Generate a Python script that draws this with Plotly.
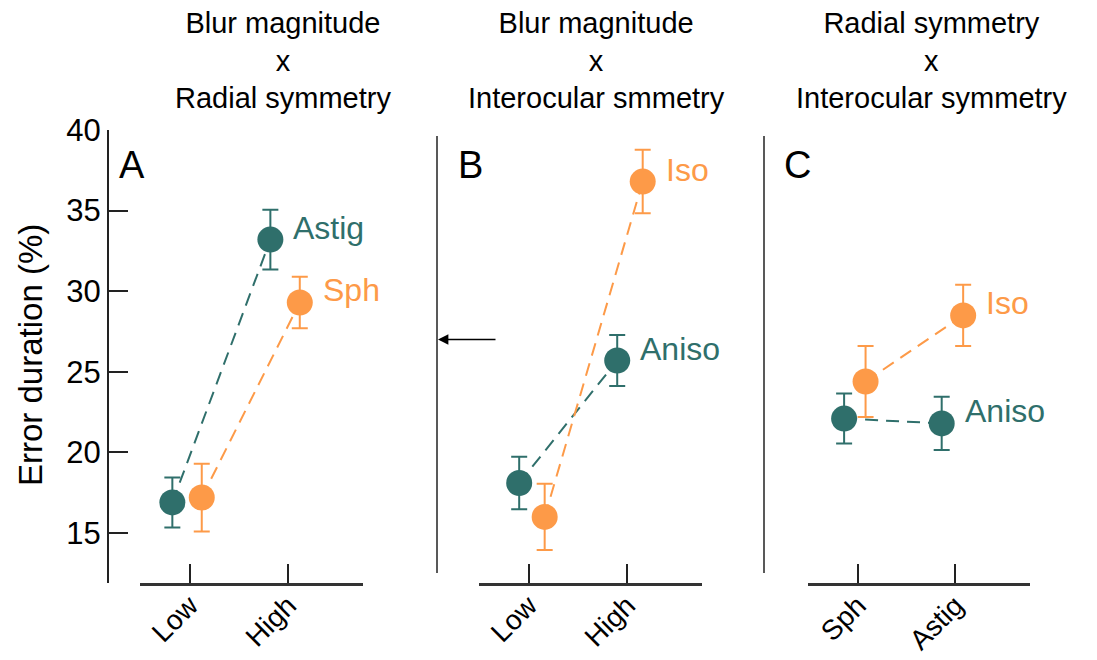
import plotly.graph_objects as go

# ---------------- data ----------------
cats_A = ["Low", "High"]
cats_B = ["Low", "High"]
cats_C = ["Sph", "Astig"]

A_astig_mean = [16.9, 33.2]
A_astig_err = [1.55, 1.85]
A_sph_mean = [17.2, 29.3]
A_sph_err = [2.1, 1.6]

B_aniso_mean = [18.1, 25.7]
B_aniso_err = [1.63, 1.58]
B_iso_mean = [16.0, 36.8]
B_iso_err = [2.05, 1.97]

C_aniso_mean = [22.1, 21.8]
C_aniso_err = [1.55, 1.65]
C_iso_mean = [24.4, 28.5]
C_iso_err = [2.2, 1.9]

panel_titles = [
    ["Blur magnitude", "x", "Radial symmetry"],
    ["Blur magnitude", "x", "Interocular smmetry"],
    ["Radial symmetry", "x", "Interocular symmetry"],
]
panel_letters = ["A", "B", "C"]
ytick_vals = [15, 20, 25, 30, 35, 40]
arrow_value = 27.0

# ---------------- style ----------------
TEAL = "#2f6f6b"
ORANGE = "#fd9a48"
FONT = "Liberation Sans, Arial, sans-serif"
W, H = 1097, 660


def px_x(p):
    return p / W


def px_y(p):
    return 1 - p / H


panels = [
    dict(xa="x", cats=cats_A, dom=(140, 363), letter_x=117,
         series=[("Astig", A_astig_mean, A_astig_err, TEAL, -0.18),
                 ("Sph", A_sph_mean, A_sph_err, ORANGE, 0.12)]),
    dict(xa="x2", cats=cats_B, dom=(479, 702), letter_x=456,
         series=[("Aniso", B_aniso_mean, B_aniso_err, TEAL, -0.10),
                 ("Iso", B_iso_mean, B_iso_err, ORANGE, 0.16)]),
    dict(xa="x3", cats=cats_C, dom=(808, 1030), letter_x=782,
         series=[("Aniso", C_aniso_mean, C_aniso_err, TEAL, -0.14),
                 ("Iso", C_iso_mean, C_iso_err, ORANGE, 0.08)]),
]
title_centers = [283, 596, 931]

fig = go.Figure()
annotations = []

for pi, p in enumerate(panels):
    for name, mean, err, col, off in p["series"]:
        xs = [i + off for i in range(len(p["cats"]))]
        fig.add_trace(go.Scatter(
            x=xs, y=mean, xaxis=p["xa"], yaxis="y", mode="lines",
            line=dict(color=col, width=2, dash="13px,8px"),
            showlegend=False, hoverinfo="skip"))
        fig.add_trace(go.Scatter(
            x=xs, y=mean, xaxis=p["xa"], yaxis="y", mode="markers",
            marker=dict(color=col, size=26),
            error_y=dict(type="data", array=err, color=col, thickness=2, width=8),
            showlegend=False, name=name))
        # series label next to the second point
        annotations.append(dict(
            x=xs[-1], y=mean[-1], xref=p["xa"], yref="y", text=name,
            showarrow=False, xanchor="left", yanchor="middle",
            xshift=21, yshift=12,
            font=dict(family=FONT, size=32, color=col)))
    # panel letter
    annotations.append(dict(
        x=px_x(p["letter_x"]), y=px_y(165), xref="paper", yref="paper",
        text=panel_letters[pi], showarrow=False, xanchor="left", yanchor="middle",
        font=dict(family=FONT, size=38, color="black")))
    # title (three lines)
    annotations.append(dict(
        x=px_x(title_centers[pi]), y=px_y(60), xref="paper", yref="paper",
        text="<br>".join(panel_titles[pi]), showarrow=False,
        xanchor="center", yanchor="middle", align="center",
        font=dict(family=FONT, size=29, color="black")))

# arrow in panel B
annotations.append(dict(
    x=px_x(438), y=arrow_value, xref="paper", yref="y", text="",
    showarrow=True, ax=59, ay=0, axref="pixel", ayref="pixel",
    arrowhead=2, arrowsize=1.3, arrowwidth=1.6, arrowcolor="black"))

# y-axis title
annotations.append(dict(
    x=px_x(30), y=px_y(355), xref="paper", yref="paper", text="Error duration (%)",
    textangle=-90, showarrow=False, xanchor="center", yanchor="middle",
    font=dict(family=FONT, size=33, color="black")))

ydom = (px_y(583), px_y(130))
yrange = [11.9, 40]

layout = dict(
    width=W, height=H, margin=dict(l=0, r=0, t=0, b=0, autoexpand=False),
    paper_bgcolor="white", plot_bgcolor="white",
    font=dict(family=FONT, color="black"),
    yaxis=dict(domain=ydom, range=yrange, anchor="free", position=px_x(108),
               automargin=False,
               tickvals=[yrange[0]] + ytick_vals,
               ticktext=[""] + [str(v) for v in ytick_vals],
               ticks="inside", ticklen=19, tickwidth=2, tickcolor="#222",
               showline=True, linewidth=2, linecolor="#222",
               showgrid=False, zeroline=False,
               tickfont=dict(family=FONT, size=31, color="black")),
    annotations=annotations,
    shapes=[
        dict(type="line", xref="paper", yref="paper", x0=px_x(437), x1=px_x(437),
             y0=px_y(136), y1=px_y(573), line=dict(color="#222", width=1.5)),
        dict(type="line", xref="paper", yref="paper", x0=px_x(764), x1=px_x(764),
             y0=px_y(136), y1=px_y(573), line=dict(color="#222", width=1.5)),
    ],
)

for p in panels:
    key = "xaxis" if p["xa"] == "x" else "xaxis" + p["xa"][1:]
    layout[key] = dict(
        domain=(px_x(p["dom"][0]), px_x(p["dom"][1])), range=[-0.51, 1.765],
        anchor="y", automargin=False,
        tickvals=list(range(len(p["cats"]))), ticktext=p["cats"],
        tickangle=-45, ticks="inside", ticklen=19, tickwidth=2, tickcolor="#222",
        ticklabelstandoff=-8,
        showline=True, linewidth=3, linecolor="#333", showgrid=False, zeroline=False,
        tickfont=dict(family=FONT, size=28, color="black"))

fig.update_layout(**layout)
fig.write_html("out.html")
